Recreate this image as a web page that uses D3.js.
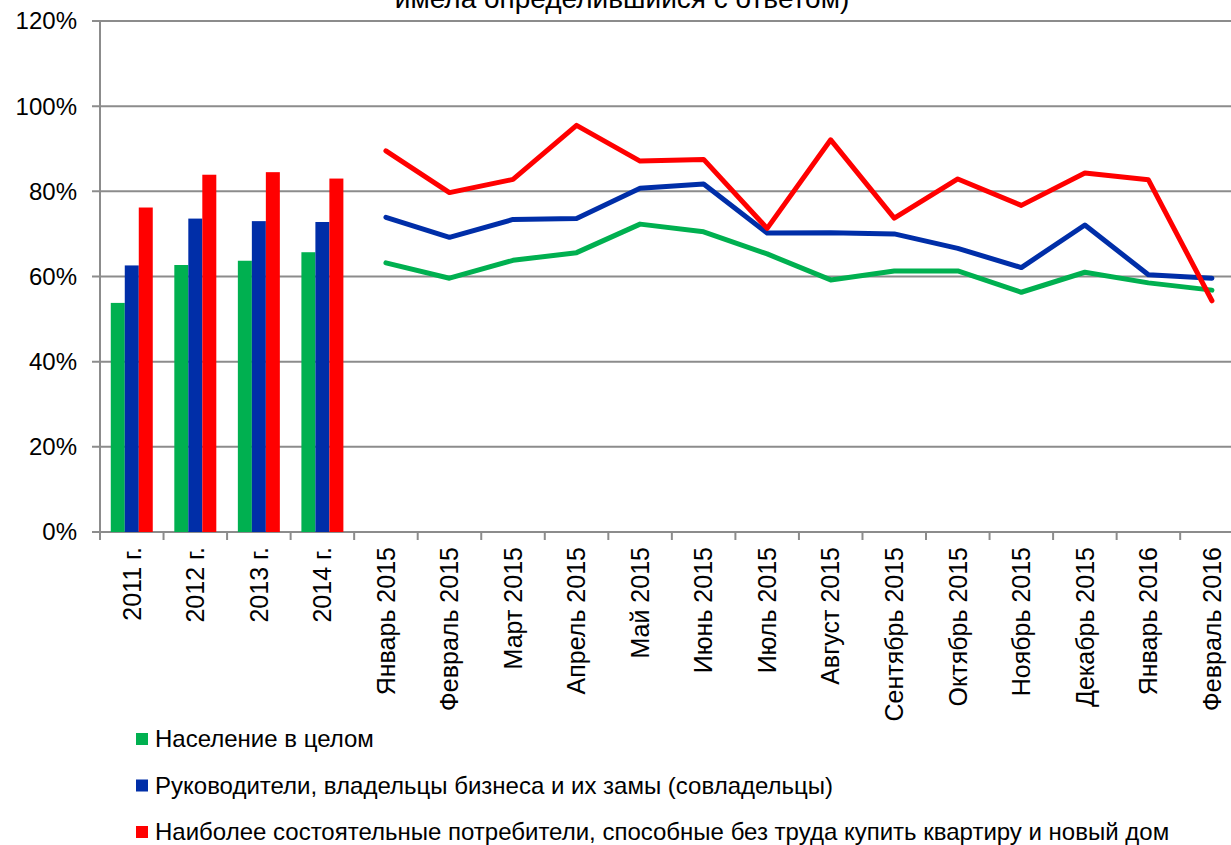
<!DOCTYPE html>
<html>
<head>
<meta charset="utf-8">
<script src="https://cdn.jsdelivr.net/npm/d3@7"></script>
<style>
    body { margin: 0; background: #fff; }
    text { font-family: "Liberation Sans", Arial, sans-serif; fill: #000; }
</style>
</head>
<body>
<script>
//categories: four yearly bars, then monthly line points
var years = ["2011 г.", "2012 г.", "2013 г.", "2014 г."];
var months = ["Январь 2015", "Февраль 2015", "Март 2015", "Апрель 2015", "Май 2015", "Июнь 2015",
    "Июль 2015", "Август 2015", "Сентябрь 2015", "Октябрь 2015", "Ноябрь 2015", "Декабрь 2015",
    "Январь 2016", "Февраль 2016"];

var seriesNames = ["Население в целом",
    "Руководители, владельцы бизнеса и их замы (совладельцы)",
    "Наиболее состоятельные потребители, способные без труда купить квартиру и новый дом"];
var seriesColors = ["#00b050", "#002ea8", "#ff0000"];

//yearly values (%), one list per series
var popYears = [53.8, 62.7, 63.7, 65.7];
var bizYears = [62.6, 73.6, 73.0, 72.8];
var richYears = [76.2, 83.9, 84.5, 83.0];

//monthly values (%)
var popMonths = [63.2, 59.6, 63.8, 65.6, 72.3, 70.5, 65.3, 59.2, 61.3, 61.3, 56.3, 61.0, 58.5, 56.8];
var bizMonths = [73.9, 69.2, 73.4, 73.6, 80.7, 81.7, 70.2, 70.3, 70.0, 66.6, 62.1, 72.1, 60.4, 59.6];
var richMonths = [89.5, 79.7, 82.8, 95.5, 87.1, 87.5, 71.3, 92.1, 73.7, 82.9, 76.7, 84.3, 82.7, 54.3];

var yTicks = [0, 20, 40, 60, 80, 100, 120];
var titleText = "имела определившийся с ответом)";

window.onload = drawChart();

function drawChart() {
    var width = 1231,
        height = 845;

    var svg = d3.select("body")
        .append("svg")
        .attr("width", width)
        .attr("height", height);

    var left = 100,
        top = 21,
        bottom = 532,
        step = 63.54;

    var categories = years.concat(months);

    //the plot runs past the right edge of the picture, as in the original
    var x = d3.scaleBand()
        .domain(categories)
        .range([left, left + step * categories.length]);

    var y = d3.scaleLinear()
        .domain([0, 120])
        .range([bottom, top]);

    //title (its upper part is cut off in the original too)
    svg.append("text")
        .attr("x", 622)
        .attr("y", 8)
        .attr("text-anchor", "middle")
        .style("font-size", "28px")
        .text(titleText);

    //gridlines
    svg.selectAll(".grid")
        .data(yTicks)
        .enter()
        .append("line")
        .attr("x1", left - 8)
        .attr("x2", width)
        .attr("y1", function(d){ return y(d); })
        .attr("y2", function(d){ return y(d); })
        .attr("stroke", "#8c8c8c")
        .attr("stroke-width", 2);

    //y axis line
    svg.append("line")
        .attr("x1", left).attr("x2", left)
        .attr("y1", y(120)).attr("y2", y(0))
        .attr("stroke", "#8c8c8c")
        .attr("stroke-width", 2);

    //y labels
    svg.selectAll(".ylab")
        .data(yTicks)
        .enter()
        .append("text")
        .attr("x", 77)
        .attr("y", function(d){ return y(d); })
        .attr("dy", "0.35em")
        .attr("text-anchor", "end")
        .style("font-size", "24px")
        .text(function(d){ return d + "%"; });

    //x ticks at the category borders
    var borders = categories.map(function(c){ return x(c); });
    svg.selectAll(".xtick")
        .data(borders)
        .enter()
        .append("line")
        .attr("x1", function(d){ return d; })
        .attr("x2", function(d){ return d; })
        .attr("y1", bottom)
        .attr("y2", bottom + 8)
        .attr("stroke", "#8c8c8c")
        .attr("stroke-width", 2);

    //x labels
    svg.selectAll(".xlab")
        .data(categories)
        .enter()
        .append("text")
        .attr("transform", function(d){
            return "translate(" + (x(d) + x.bandwidth() / 2) + "," + (bottom + 15) + ") rotate(-90)";
        })
        .attr("dy", "0.35em")
        .attr("text-anchor", "end")
        .style("font-size", "25px")
        .text(function(d){ return d; });

    //grouped bars for the years
    var x1 = d3.scaleBand()
        .domain([0, 1, 2])
        .range([0, x.bandwidth()])
        .paddingOuter(0.77);

    var yearSeries = [popYears, bizYears, richYears];
    yearSeries.forEach(function(vals, i){
        svg.selectAll(".bar" + i)
            .data(vals)
            .enter()
            .append("rect")
            .attr("x", function(d, j){ return x(years[j]) + x1(i); })
            .attr("width", x1.bandwidth())
            .attr("y", function(d){ return y(d); })
            .attr("height", function(d){ return y(0) - y(d); })
            .attr("fill", seriesColors[i]);
    });

    //monthly lines
    var line = d3.line()
        .x(function(d, j){ return x(months[j]) + x.bandwidth() / 2; })
        .y(function(d){ return y(d); });

    var monthSeries = [popMonths, bizMonths, richMonths];
    monthSeries.forEach(function(vals, i){
        svg.append("path")
            .datum(vals)
            .attr("d", line)
            .attr("fill", "none")
            .attr("stroke", seriesColors[i])
            .attr("stroke-width", 5)
            .attr("stroke-linejoin", "round")
            .attr("stroke-linecap", "round");
    });

    //legend
    var legend = svg.selectAll(".legend")
        .data(seriesNames)
        .enter()
        .append("g")
        .attr("transform", function(d, i){ return "translate(136," + (739 + i * 46.5) + ")"; });

    legend.append("rect")
        .attr("x", 0)
        .attr("y", -6)
        .attr("width", 12)
        .attr("height", 12)
        .attr("fill", function(d, i){ return seriesColors[i]; });

    legend.append("text")
        .attr("x", 19)
        .attr("dy", "0.35em")
        .style("font-size", "24px")
        .text(function(d){ return d; });
}
</script>
</body>
</html>
